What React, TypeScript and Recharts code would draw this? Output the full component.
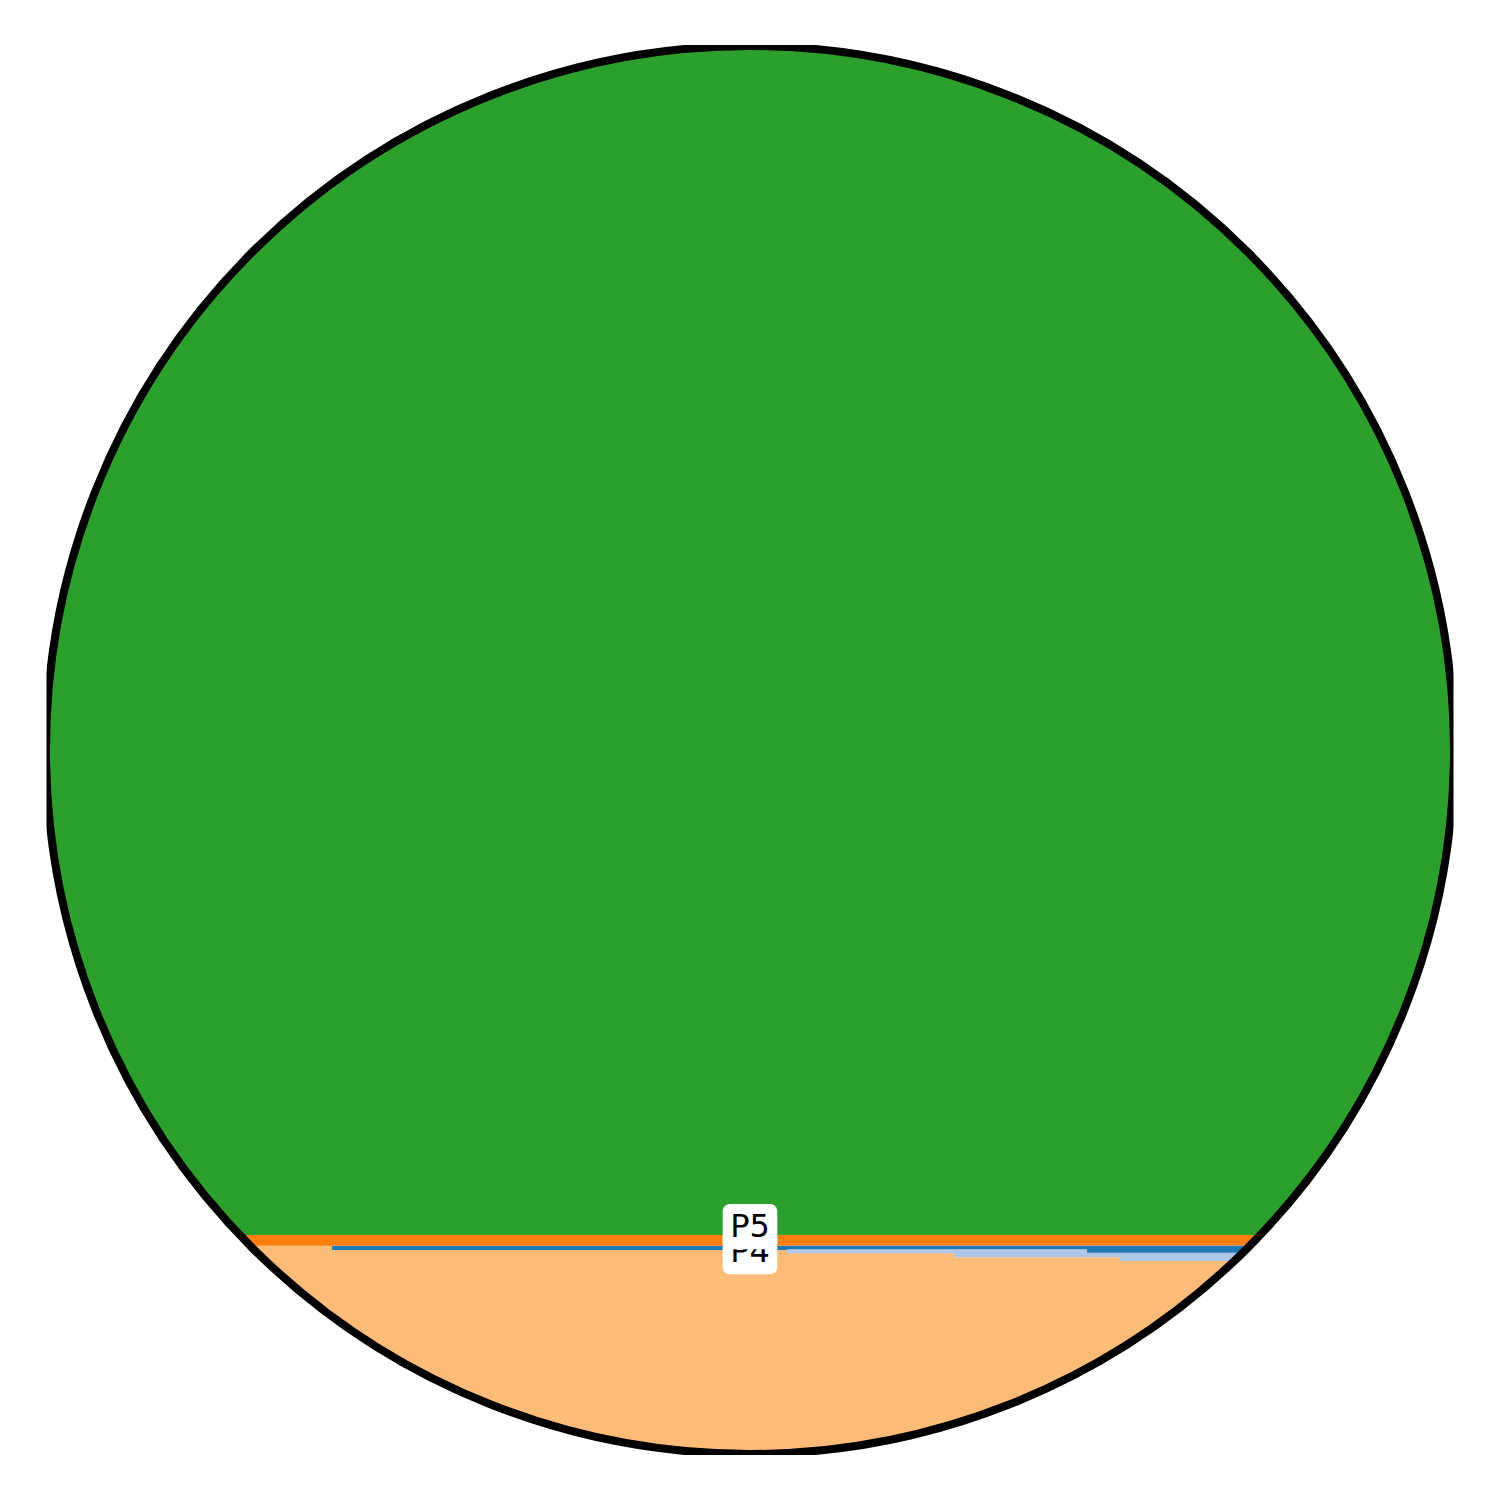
import React from 'react';
import { AreaChart, Area, XAxis, YAxis, ReferenceDot } from 'recharts';

// x positions (step starts) and stacked percentage values per series
const xs = [0, 20.27, 52.63, 64.51, 73.97, 76.32, 100];
const p4 = [14.84, 14.54, 14.31, 14.02, 14.02, 13.76, 13.76];
const p2 = [0, 0, 0.28, 0.57, 0.33, 0.59, 0.59];
const p1 = [0, 0.3, 0.26, 0.26, 0.5, 0.5, 0.5];
const p3 = [0.76, 0.76, 0.76, 0.76, 0.76, 0.76, 0.76];
const p5 = [84.4, 84.4, 84.4, 84.4, 84.4, 84.4, 84.4];

const labelNames = ['P4', 'P5'];
const labelX = [50, 50];
const labelY = [14.54, 16.31];

const data = xs.map((x, i) => ({ x, P4: p4[i], P2: p2[i], P1: p1[i], P3: p3[i], P5: p5[i] }));

const RingShape = (props: any) => {
  const { cx, cy, r } = props;
  return (
    <g>
      <defs>
        <clipPath id="circleClip">
          <circle cx={cx} cy={cy} r={r} />
        </clipPath>
        <clipPath id="ringBox">
          <rect x={cx - r + 0.5} y={cy - r - 1} width={2 * r - 1} height={2 * r + 2} />
        </clipPath>
      </defs>
      <circle cx={cx} cy={cy} r={r} fill="none" stroke="#000" strokeWidth={8} clipPath="url(#ringBox)" />
    </g>
  );
};

const makeLabel = (text: string) => (props: any) => {
  const { cx, cy } = props;
  const w = 54.6;
  return (
    <g>
      <rect x={cx - w / 2} y={cy - 21} width={w} height={45.3} rx={7} ry={7} fill="#fff" stroke="none" />
      <text
        x={cx}
        y={cy + 11.7}
        textAnchor="middle"
        fontFamily="DejaVu Sans"
        fontSize={32}
        fill="#000"
      >
        {text}
      </text>
    </g>
  );
};

export default function App() {
  return (
    <div style={{ position: 'absolute', left: 0, top: 0, width: 1500, height: 1500, background: '#fff' }}>
      <style>{`.recharts-area { clip-path: url(#circleClip); }`}</style>
      <AreaChart width={1500} height={1500} data={data} margin={{ top: 45, right: 47, bottom: 45, left: 47 }}>
        <XAxis dataKey="x" type="number" domain={[0, 100]} allowDataOverflow hide />
        <YAxis type="number" domain={[0, 100]} allowDataOverflow hide />
        <Area dataKey="P4" stackId="s" type="stepAfter" fill="#ffbb78" fillOpacity={1} stroke="none" isAnimationActive={false} />
        <Area dataKey="P2" stackId="s" type="stepAfter" fill="#aec7e8" fillOpacity={1} stroke="none" isAnimationActive={false} />
        <Area dataKey="P1" stackId="s" type="stepAfter" fill="#1f77b4" fillOpacity={1} stroke="none" isAnimationActive={false} />
        <Area dataKey="P3" stackId="s" type="stepAfter" fill="#ff7f0e" fillOpacity={1} stroke="none" isAnimationActive={false} />
        <Area dataKey="P5" stackId="s" type="stepAfter" fill="#2ca02c" fillOpacity={1} stroke="none" isAnimationActive={false} />
        <ReferenceDot x={50} y={50} r={704} ifOverflow="hidden" shape={RingShape} />
        {labelNames.map((name, i) => (
          <ReferenceDot key={name} x={labelX[i]} y={labelY[i]} r={1} ifOverflow="visible" shape={makeLabel(name)} />
        ))}
      </AreaChart>
    </div>
  );
}
